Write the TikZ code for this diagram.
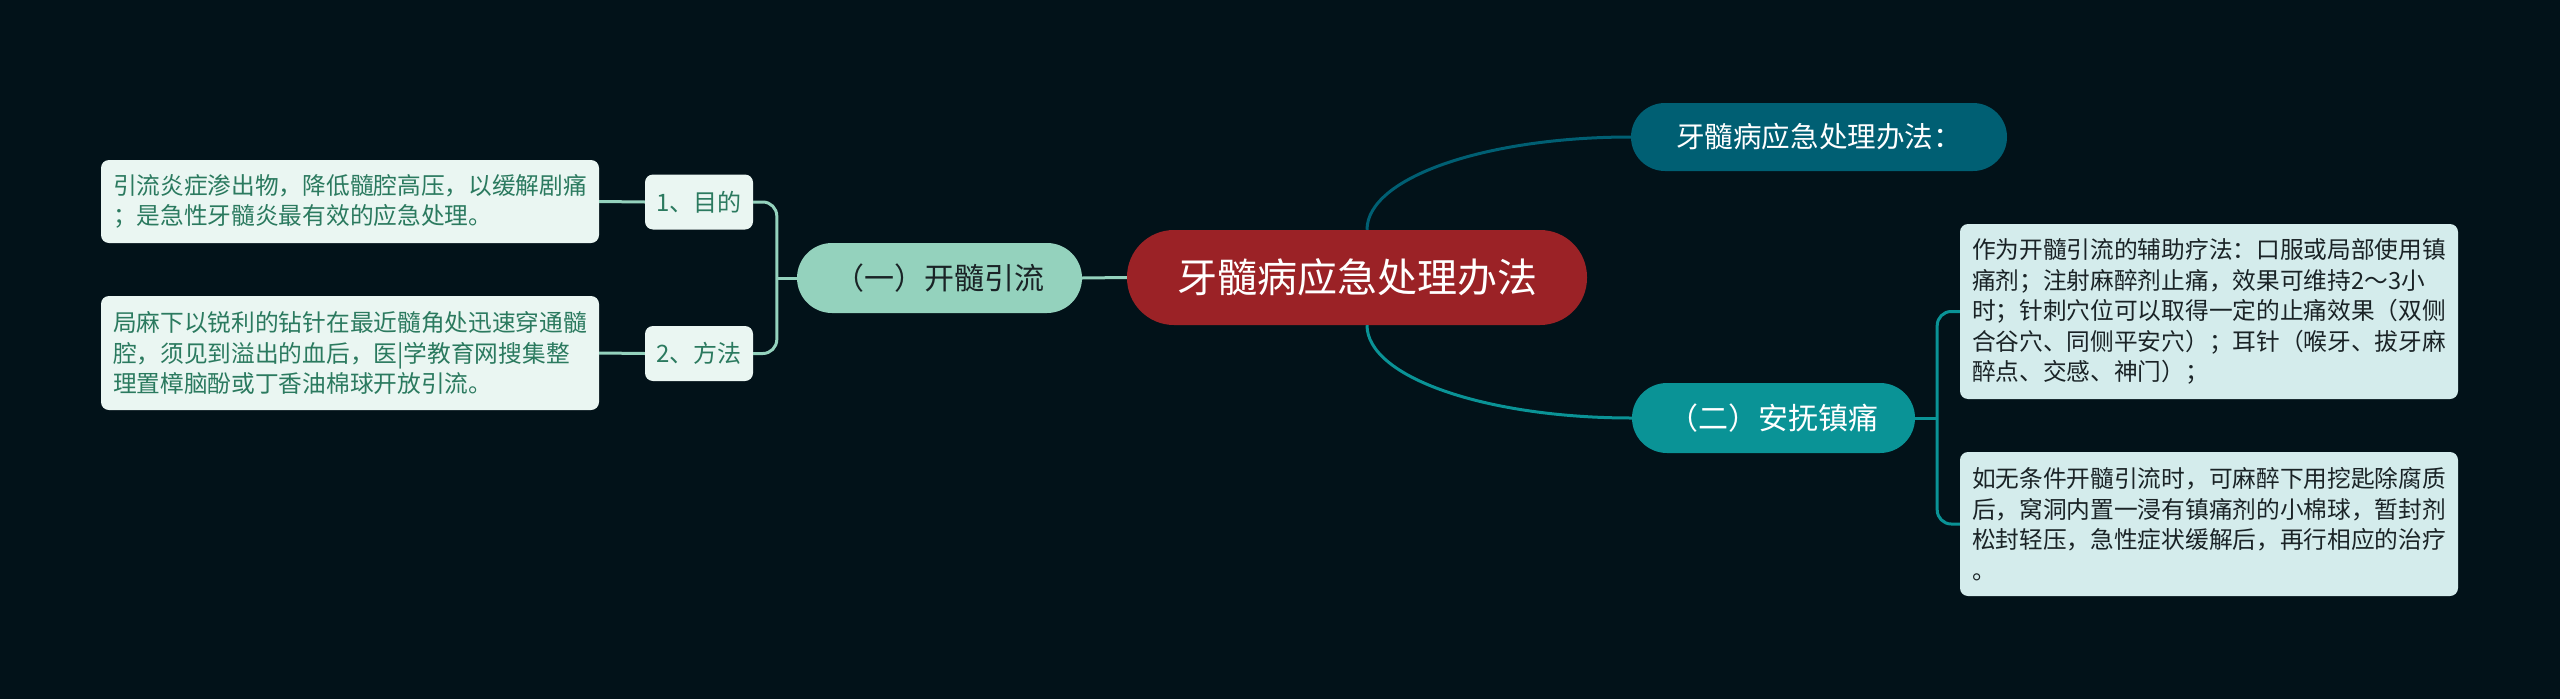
\documentclass[tikz,border=0pt]{standalone}
\usepackage{fontspec}
\setmainfont{Noto Sans CJK SC}
\usetikzlibrary{positioning}
\definecolor{bgdark}{HTML}{021219}
\definecolor{rootred}{HTML}{9B2226}
\definecolor{deepteal}{HTML}{005F73}
\definecolor{midteal}{HTML}{0A9396}
\definecolor{mint}{HTML}{94D2BD}
\definecolor{mintpale}{HTML}{EAF6F2}
\definecolor{tealpale}{HTML}{D4ECEC}
\definecolor{leafgreen}{HTML}{2B7A5F}
\definecolor{inkdark}{HTML}{1A2326}
\begin{document}
\begin{tikzpicture}[x=1pt,y=-1pt,
  rootnode/.style={fill=rootred,text=white,rounded corners=47pt,inner sep=0pt,
    minimum width=460pt,minimum height=95pt,font=\fontsize{40}{48}\selectfont},
  branch/.style={rounded corners=35pt,inner sep=0pt,minimum height=70pt,
    font=\fontsize{30}{36}\selectfont},
  tag/.style={fill=mintpale,text=leafgreen,rounded corners=8pt,inner sep=0pt,
    minimum width=108pt,minimum height=55pt,font=\fontsize{24}{30}\selectfont},
  leaf/.style={rounded corners=8pt,inner sep=0pt,text width=474pt,align=left,
    minimum width=498pt,font=\fontsize{23.7}{30.5}\selectfont},
  link/.style={line width=3pt}]
\fill[bgdark] (0,0) rectangle (2560,699);
% centre and main branches
\node[rootnode] (root) at (1357,277.5) {牙髓病应急处理办法};
\node[branch,fill=deepteal,text=white,rounded corners=34pt,minimum width=376pt,
  minimum height=68pt,font=\fontsize{28.6}{34}\selectfont] (note) at (1819,137) {牙髓病应急处理办法：};
\node[branch,fill=midteal,text=white,minimum width=283pt] (calm) at (1773.5,418) {（二）安抚镇痛};
\node[branch,fill=mint,text=inkdark,minimum width=285pt] (drain) at (939.5,278) {（一）开髓引流};
\node[tag] (aim) at (699,202) {1、目的};
\node[tag] (way) at (699,353.5) {2、方法};
\node[leaf,fill=mintpale,text=leafgreen,minimum height=83pt] (aimtxt) at (350,201.5)
  {引流炎症渗出物，降低髓腔高压，以缓解剧痛\\；是急性牙髓炎最有效的应急处理。};
\node[leaf,fill=mintpale,text=leafgreen,minimum height=114pt] (waytxt) at (350,353)
  {局麻下以锐利的钻针在最近髓角处迅速穿通髓\\腔，须见到溢出的血后，医|学教育网搜集整\\理置樟脑酚或丁香油棉球开放引流。};
\node[leaf,fill=tealpale,text=inkdark,minimum height=175pt] (calmtxt) at (2209,311.5)
  {作为开髓引流的辅助疗法：口服或局部使用镇\\痛剂；注射麻醉剂止痛，效果可维持2～3小\\时；针刺穴位可以取得一定的止痛效果（双侧\\合谷穴、同侧平安穴）；耳针（喉牙、拔牙麻\\醉点、交感、神门）；};
\node[leaf,fill=tealpale,text=inkdark,minimum height=144pt] (cottontxt) at (2209,524)
  {如无条件开髓引流时，可麻醉下用挖匙除腐质\\后，窝洞内置一浸有镇痛剂的小棉球，暂封剂\\松封轻压，急性症状缓解后，再行相应的治疗\\。};
\coordinate[left=20pt of drain.west] (drainfork);
\coordinate[right=22pt of calm.east] (calmfork);
\draw[link,deepteal] ([xshift=10pt]root.north) .. controls +(0,-52) and +(-146,0) .. (note.west);
\draw[link,midteal] ([xshift=10pt]root.south) .. controls +(0,52) and +(-146,0) .. (calm.west);
\draw[link,mint] (root.west) -- (drain.east);
\draw[link,mint] (drain.west) -- (drainfork);
\draw[link,mint,rounded corners=14pt] (aim.east) -| (drainfork) |- (way.east);
\draw[link,mint] (aim.west) -- (aimtxt.east);
\draw[link,mint] (way.west) -- (waytxt.east);
\draw[link,midteal] (calm.east) -- (calmfork);
\draw[link,midteal,rounded corners=14pt] (calmtxt.west) -| (calmfork) |- (cottontxt.west);
\end{tikzpicture}
\end{document}
